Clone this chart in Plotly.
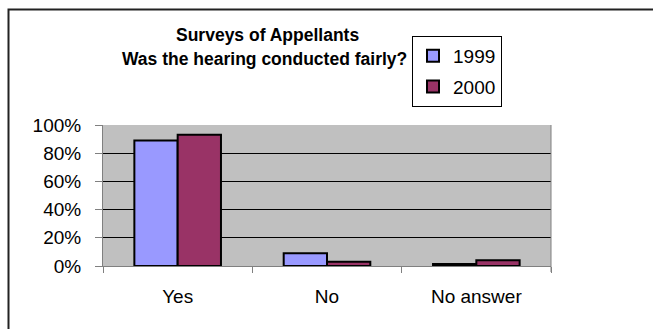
import plotly.graph_objects as go

categories = ["Yes", "No", "No answer"]
series_names = ["1999", "2000"]
values_1999 = [0.89, 0.09, 0.015]
values_2000 = [0.93, 0.03, 0.04]
colors = ["#9999ff", "#993366"]
tick_vals = [0, 0.2, 0.4, 0.6, 0.8, 1.0]
tick_text = ["0%", "20%", "40%", "60%", "80%", "100%"]

W, H = 653, 329
L, R, T, B = 103, 102, 125, 63
pw, ph = W - L - R, H - T - B

def px(x):
    return (x - L) / pw

def py(y):
    return (H - B - y) / ph

fig = go.Figure()
for name, vals, col in zip(series_names, [values_1999, values_2000], colors):
    fig.add_trace(go.Bar(
        x=categories, y=vals, name=name, legendgroup=name,
        marker=dict(color=col, line=dict(color="black", width=2)),
    ))

fnt = "Arial, Liberation Sans, sans-serif"
fig.update_layout(
    width=W, height=H,
    margin=dict(l=L, r=R, t=T, b=B),
    paper_bgcolor="white", plot_bgcolor="#c0c0c0",
    barmode="group", bargap=0.42, bargroupgap=0,
    font=dict(family=fnt, size=19, color="black"),
    showlegend=True,
    legend=dict(
        x=px(412), y=py(36), xanchor="left", yanchor="top",
        bgcolor="white", bordercolor="black", borderwidth=1,
        font=dict(size=19), tracegroupgap=3, itemwidth=30,
    ),
    xaxis=dict(
        showline=True, linecolor="#808080", linewidth=1,
        ticks="outside", tickson="boundaries", ticklen=6, tickcolor="#808080",
        ticklabelstandoff=13, mirror=False,
    ),
    yaxis=dict(
        range=[0, 1.0], tickvals=tick_vals, ticktext=tick_text,
        showgrid=True, gridcolor="black", gridwidth=1,
        showline=True, linecolor="#808080", linewidth=1,
        ticks="outside", ticklen=7, tickcolor="#808080",
        ticklabelstandoff=10, zeroline=False,
    ),
    annotations=[
        dict(text="<b>Surveys of Appellants</b>", x=px(267), y=py(35),
             xref="paper", yref="paper", showarrow=False, xanchor="center", yanchor="middle",
             font=dict(size=17.5)),
        dict(text="<b>Was the hearing conducted fairly?</b>", x=px(264), y=py(59),
             xref="paper", yref="paper", showarrow=False, xanchor="center", yanchor="middle",
             font=dict(size=17.5)),
    ],
    shapes=[
        dict(type="rect", xref="paper", yref="paper",
             x0=px(8.5), x1=px(700), y0=py(380), y1=py(9.5),
             line=dict(color="#222222", width=2), layer="below"),
        dict(type="line", xref="paper", yref="paper",
             x0=1, x1=1, y0=py(272), y1=1, line=dict(color="#808080", width=1)),
    ],
)

fig.write_html("out.html")
